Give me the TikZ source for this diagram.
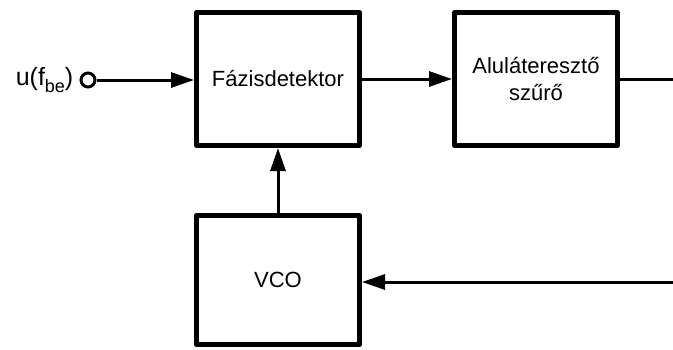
\documentclass[tikz,border=0pt]{standalone}
\usepackage{fontspec}
\setmainfont{Liberation Sans}
\usetikzlibrary{arrows.meta,positioning}

\begin{document}
\begin{tikzpicture}[
    x=1pt, y=1pt,
    node distance=90pt,
    blk/.style={rectangle, draw, line width=5pt, line join=round, minimum width=163pt, minimum height=133pt, font=\fontsize{22}{27}\selectfont, align=center},
    wire/.style={line width=3pt},
    arr/.style={-{Triangle[length=23pt, width=15pt]}, line width=3pt}
]
\useasboundingbox (0,0) rectangle (673,-349);

\node[blk] (fd) at (278,-79) {Fázisdetektor};
\node[blk, right=of fd] (lp) {Aluláteresztő\\szűrő};
\node[blk, minimum height=129pt, below=65pt of fd] (vco) {VCO};

\node[circle, draw, line width=3pt, minimum size=14pt, inner sep=0pt] (in) at (88,-80) {};
\node[left=6pt of in, inner sep=0pt, font=\fontsize{25}{30}\selectfont] (lbl) {u(f\raisebox{-7pt}{\fontsize{18}{18}\selectfont be})};

\coordinate (out) at (673,-79);
\coordinate (fb) at (673,-282);

\draw[arr] (in.east) -- (in.east -| fd.west);
\foreach \a/\b in {fd/lp, vco/fd} {
  \draw[arr] (\a) -- (\b);
}
\draw[wire] (lp.east) -- (out);
\draw[arr] (fb) -- (fb -| vco.east);
\end{tikzpicture}
\end{document}
